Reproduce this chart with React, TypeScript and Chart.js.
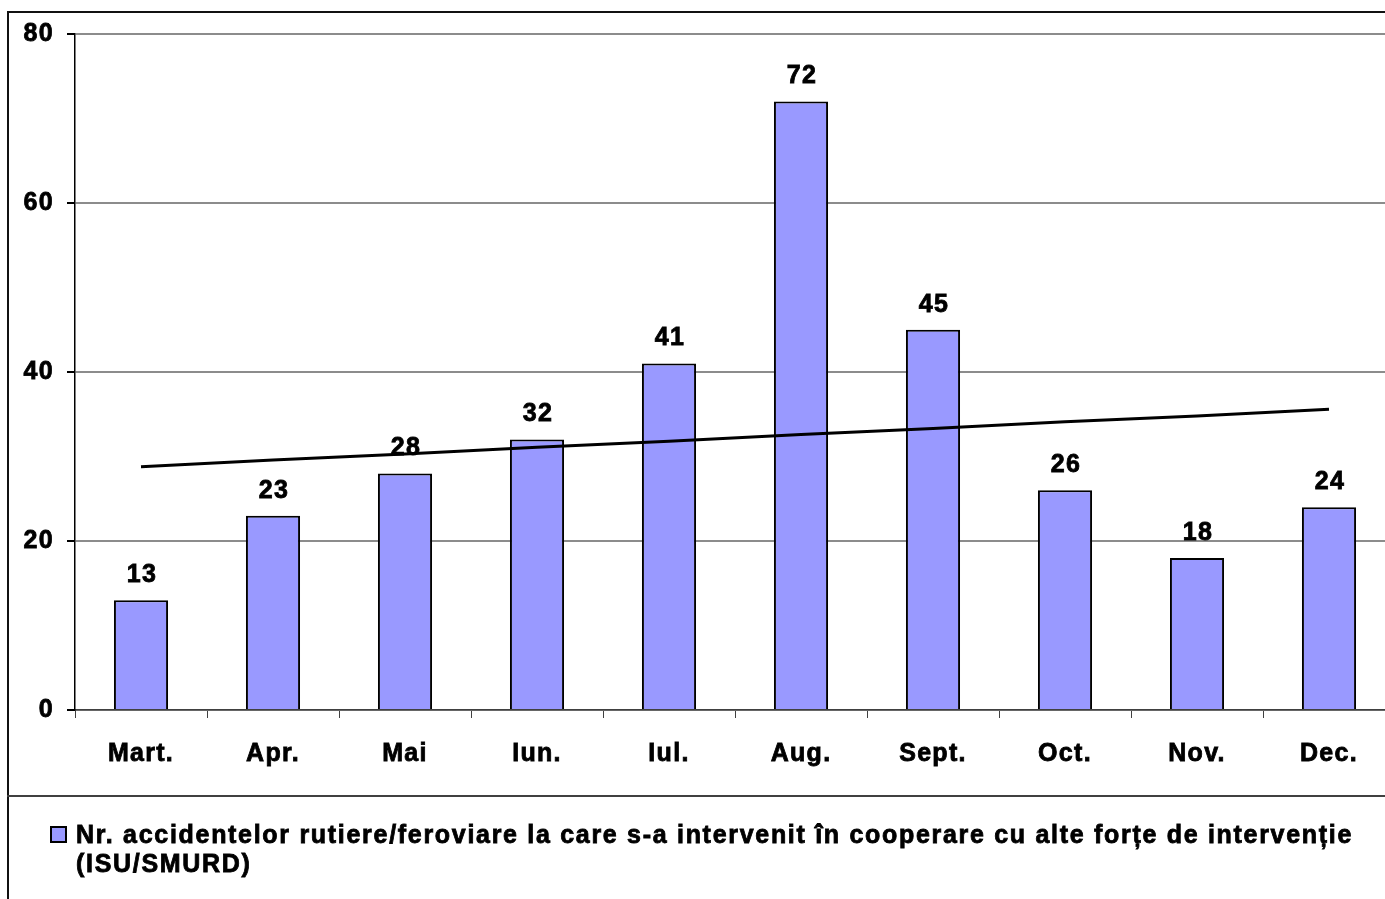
import React, { useEffect, useRef } from "react";
import { Chart, registerables } from "chart.js";

Chart.register(...registerables);

const categories = ["Mart.", "Apr.", "Mai", "Iun.", "Iul.", "Aug.", "Sept.", "Oct.", "Nov.", "Dec."];
const accidentValues = [13, 23, 28, 32, 41, 72, 45, 26, 18, 24];
const trendValues = [28.8, 29.6, 30.3, 31.1, 31.8, 32.6, 33.3, 34.1, 34.8, 35.6];
const yTicks = [0, 20, 40, 60, 80];
const legendLabel =
  "Nr. accidentelor rutiere/feroviare la care s-a intervenit în cooperare cu alte forțe de intervenție (ISU/SMURD)";

const FONT_FAMILY = '"Liberation Sans", Arial, sans-serif';
const FONT_SIZE = 25;
const LETTER_SPACING = "1.3px";
const STROKE = 0.8;

const spacing = {
  id: "spacing",
  beforeUpdate(chart: any) {
    (chart.ctx as any).letterSpacing = LETTER_SPACING;
  },
  beforeDraw(chart: any) {
    (chart.ctx as any).letterSpacing = LETTER_SPACING;
  },
};

const valueLabels = {
  id: "valueLabels",
  afterDatasetsDraw(chart: any) {
    const ctx = chart.ctx;
    const meta = chart.getDatasetMeta(0);
    ctx.save();
    (ctx as any).letterSpacing = LETTER_SPACING;
    ctx.font = `bold ${FONT_SIZE}px ${FONT_FAMILY}`;
    ctx.fillStyle = "#000";
    ctx.strokeStyle = "#000";
    ctx.lineWidth = STROKE;
    ctx.textAlign = "center";
    ctx.textBaseline = "middle";
    meta.data.forEach((bar: any, i: number) => {
      const label = String(accidentValues[i]);
      ctx.strokeText(label, bar.x + 1, bar.y - 25);
      ctx.fillText(label, bar.x + 1, bar.y - 25);
    });
    ctx.restore();
  },
};

export default function App() {
  const canvasRef = useRef<HTMLCanvasElement | null>(null);

  useEffect(() => {
    if (!canvasRef.current) return;
    const chart = new Chart(canvasRef.current, {
      type: "bar",
      data: {
        labels: categories,
        datasets: [
          {
            type: "bar",
            label: legendLabel,
            data: accidentValues,
            backgroundColor: "#9999FF",
            borderColor: "#000",
            borderWidth: 2,
            categoryPercentage: 1,
            barPercentage: 0.41,
            order: 1,
          },
          {
            type: "line",
            label: "Trend",
            data: trendValues,
            borderColor: "#000",
            borderWidth: 3,
            pointRadius: 0,
            tension: 0,
            fill: false,
            order: 0,
          } as any,
        ],
      },
      options: {
        responsive: false,
        animation: false,
        devicePixelRatio: 1,
        layout: { padding: { left: 0, top: 34, right: 5, bottom: 0 } },
        plugins: {
          legend: { display: false },
          tooltip: { enabled: false },
          title: { display: false },
        },
        scales: {
          x: {
            offset: true,
            grid: {
              display: true,
              drawOnChartArea: false,
              drawTicks: true,
              tickLength: 8,
              tickColor: "#404040",
              offset: true,
            },
            border: { display: true, color: "#404040", width: 1.5 },
            ticks: {
              color: "#000",
              padding: 21,
              textStrokeColor: "#000",
              textStrokeWidth: STROKE,
              font: { family: FONT_FAMILY, size: FONT_SIZE, weight: "bold" },
            },
            afterFit(scale: any) {
              scale.height = 200;
            },
          },
          y: {
            min: 0,
            max: 80,
            afterBuildTicks(scale: any) {
              scale.ticks = yTicks.map((v) => ({ value: v }));
            },
            grid: {
              color: "#8c8c8c",
              lineWidth: 2,
              tickLength: 8,
              tickColor: "#000",
            },
            border: { display: true, color: "#000", width: 1.5 },
            ticks: {
              color: "#000",
              padding: 13,
              textStrokeColor: "#000",
              textStrokeWidth: STROKE,
              font: { family: FONT_FAMILY, size: FONT_SIZE, weight: "bold" },
            },
            afterFit(scale: any) {
              scale.width = 75;
            },
          },
        },
      },
      plugins: [spacing, valueLabels],
    });
    return () => chart.destroy();
  }, []);

  return (
    <div
      style={{
        position: "fixed",
        left: 0,
        top: 0,
        width: 1385,
        height: 899,
        overflow: "hidden",
        background: "#fff",
      }}
    >
      <canvas
        ref={canvasRef}
        width={1400}
        height={910}
        style={{ position: "absolute", left: 0, top: 0, display: "block" }}
      />
      <div
        style={{
          position: "absolute",
          left: 7,
          top: 11,
          width: 1500,
          height: 1000,
          borderLeft: "2px solid #111",
          borderTop: "2px solid #111",
          boxSizing: "border-box",
        }}
      />
      <div
        style={{
          position: "absolute",
          left: 7,
          top: 795,
          width: 1500,
          height: 0,
          borderTop: "2px solid #404040",
        }}
      />
      <div
        style={{
          position: "absolute",
          left: 50,
          top: 826,
          width: 17,
          height: 17,
          boxSizing: "border-box",
          border: "2px solid #000",
          background: "#9999FF",
        }}
      />
      <div
        style={{
          position: "absolute",
          left: 76,
          top: 820,
          width: 1300,
          fontFamily: FONT_FAMILY,
          fontWeight: "bold",
          fontSize: 25,
          letterSpacing: "1.7px",
          WebkitTextStroke: "0.8px #000",
          lineHeight: "29px",
          color: "#000",
        }}
      >
        {legendLabel}
      </div>
    </div>
  );
}
